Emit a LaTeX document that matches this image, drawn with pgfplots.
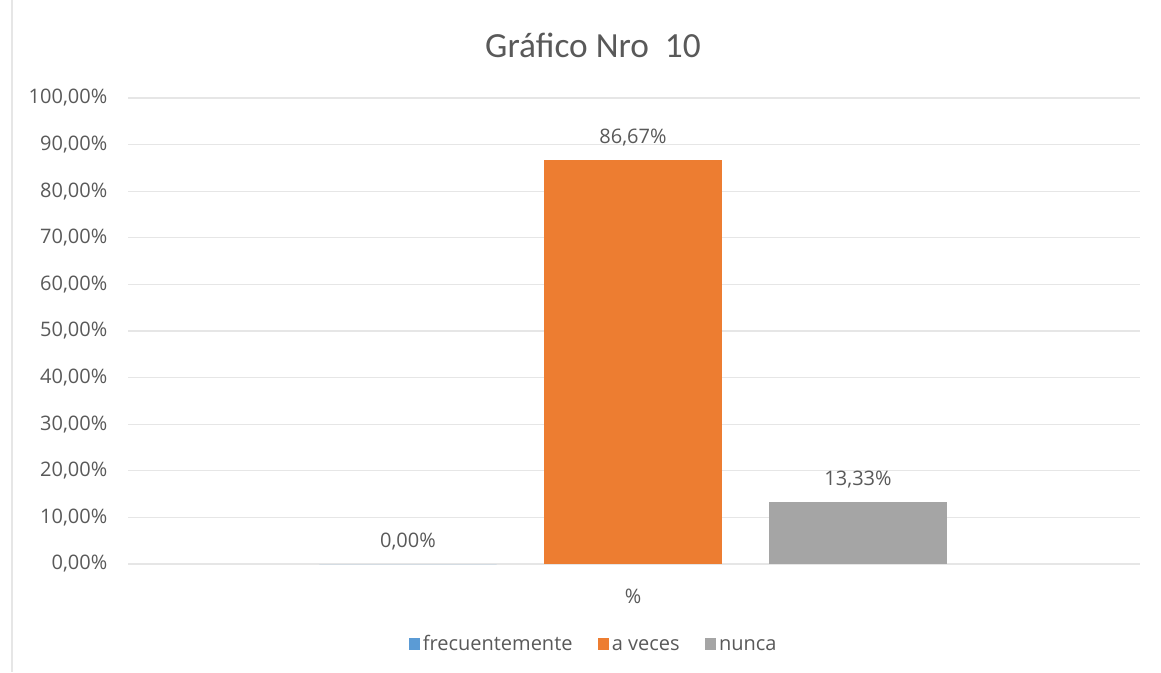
\documentclass[border=0pt]{standalone}
\usepackage{pgfplots}
\pgfplotsset{compat=1.18}
\usepackage{fontspec}
\setmainfont{Open Sans}
\newfontfamily\titlefont{Carlito}
\definecolor{exblue}{HTML}{5B9BD5}
\definecolor{exorange}{HTML}{ED7D31}
\definecolor{exgray}{HTML}{A5A5A5}
\definecolor{txt}{HTML}{595959}
\definecolor{gridc}{HTML}{E6E6E6}
\begin{document}
\begin{tikzpicture}[x=0.75pt,y=0.75pt]
% whole chart is 1161 x 672 px; origin at the plot area's lower left corner
\path[use as bounding box] (-128,-108) rectangle (1033,564);
\draw[gridc,line width=0.8pt] (-116,-108) -- (-116,564);
\begin{axis}[
    at={(0,0)}, anchor=south west,
    scale only axis,
    width=759pt, height=349.5pt,
    ybar, bar shift=0pt, bar width=0.787,
    xmin=-2.244, xmax=2.253,
    ymin=0, ymax=100,
    ytick={0,10,...,100},
    xtick={0}, xticklabels={\%},
    axis line style={draw=none},
    major tick length=0pt,
    ymajorgrids, grid style={gridc,line width=0.9pt},
    /pgf/number format/assume math mode=true,
    yticklabel={\pgfmathprintnumber[fixed,fixed zerofill,precision=2,use comma]{\tick}\%},
    tick label style={font=\fontsize{15}{17}\selectfont, text=txt},
    yticklabel style={xshift=-12pt},
    xticklabel style={yshift=-15pt},
    nodes near coords={\pgfmathprintnumber[fixed,fixed zerofill,precision=2,use comma]{\pgfplotspointmeta}\%},
    nodes near coords style={font=\fontsize{15}{17}\selectfont, text=txt, yshift=7pt},
    legend columns=3,
    legend style={draw=none, font=\fontsize{15}{17}\selectfont, text=txt,
        at={(0.4605,-0.174)}, anchor=center,
        nodes={text height=11pt, text depth=3pt},
        /tikz/every even column/.append style={column sep=17pt}},
    legend image code/.code={\fill[#1] (0pt,-4pt) rectangle (8.5pt,5pt);},
]
\addplot[fill=exblue, draw=none] coordinates {(-1,0)};
\addplot[fill=exorange, draw=none] coordinates {(0,86.67)};
\addplot[fill=exgray, draw=none] coordinates {(1,13.33)};
\legend{frecuentemente, a veces, nunca}
\end{axis}
\node[text=txt, font=\titlefont\fontsize{26.5}{30}\selectfont] at (465,519) {Gráfico Nro\ \ 10};
\end{tikzpicture}
\end{document}
